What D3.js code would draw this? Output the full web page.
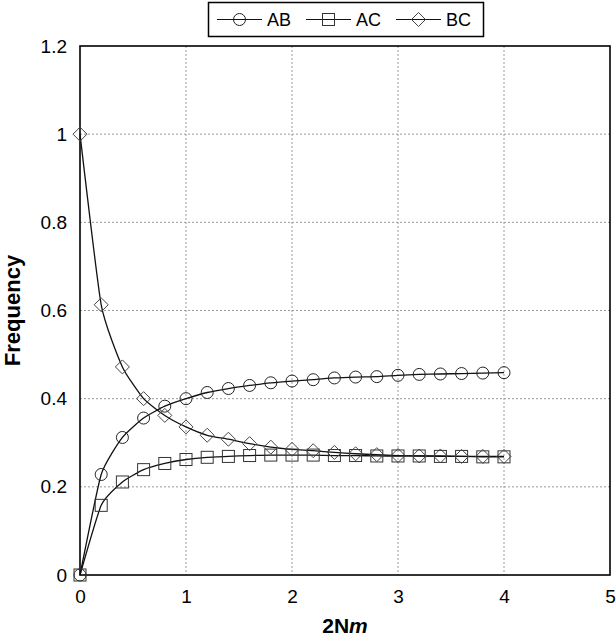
<!DOCTYPE html>
<html>
<head>
  <meta charset="utf-8">
  <script src="https://d3js.org/d3.v7.min.js"></script>
  <style>
    body { margin:0; background:#fff; font-family: Arial, "Liberation Sans", sans-serif; }
  </style>
</head>
<body>
<script>
// x values: 2Nm from 0 to 4 in steps of 0.2
var xs = [0, 0.2, 0.4, 0.6, 0.8, 1.0, 1.2, 1.4, 1.6, 1.8, 2.0,
          2.2, 2.4, 2.6, 2.8, 3.0, 3.2, 3.4, 3.6, 3.8, 4.0];

var ab = [0, 0.228, 0.312, 0.356, 0.383, 0.400, 0.414, 0.423, 0.430, 0.436, 0.440,
          0.443, 0.447, 0.449, 0.450, 0.453, 0.455, 0.456, 0.457, 0.458, 0.459];
var ac = [0, 0.158, 0.211, 0.239, 0.253, 0.262, 0.267, 0.269, 0.271, 0.272, 0.272,
          0.272, 0.271, 0.271, 0.270, 0.270, 0.270, 0.269, 0.269, 0.268, 0.268];
var bc = [1.0, 0.613, 0.472, 0.400, 0.362, 0.336, 0.317, 0.308, 0.298, 0.290, 0.285,
          0.282, 0.278, 0.275, 0.273, 0.271, 0.270, 0.270, 0.269, 0.269, 0.269];

var seriesNames = ["AB", "AC", "BC"];
var xTicks = [0, 1, 2, 3, 4, 5];
var yTicks = [0, 0.2, 0.4, 0.6, 0.8, 1, 1.2];

var W = 616, H = 639;
var pLeft = 80, pRight = 610, pTop = 46, pBottom = 575;

var svg = d3.select("body").append("svg")
  .attr("width", W)
  .attr("height", H);

var x = d3.scaleLinear().domain([0, 5]).range([pLeft, pRight]);
var y = d3.scaleLinear().domain([0, 1.2]).range([pBottom, pTop]);

// grid
svg.append("g").selectAll("line")
  .data(xTicks.slice(1, -1))
  .enter().append("line")
  .attr("x1", function(d){ return x(d); })
  .attr("x2", function(d){ return x(d); })
  .attr("y1", pTop).attr("y2", pBottom)
  .attr("stroke", "#9a9a9a").attr("stroke-width", 1)
  .attr("stroke-dasharray", "2,2");

svg.append("g").selectAll("line")
  .data(yTicks.slice(1, -1))
  .enter().append("line")
  .attr("y1", function(d){ return y(d); })
  .attr("y2", function(d){ return y(d); })
  .attr("x1", pLeft).attr("x2", pRight)
  .attr("stroke", "#9a9a9a").attr("stroke-width", 1)
  .attr("stroke-dasharray", "2,2");

// frame
svg.append("rect")
  .attr("x", pLeft).attr("y", pTop)
  .attr("width", pRight - pLeft).attr("height", pBottom - pTop)
  .attr("fill", "none").attr("stroke", "#000").attr("stroke-width", 1.6);

// axes text
var xAxis = d3.axisBottom(x).tickValues(xTicks).tickSize(0).tickPadding(15)
  .tickFormat(d3.format("d"));
var gx = svg.append("g").attr("transform", "translate(0," + pBottom + ")").call(xAxis);
gx.select(".domain").remove();
gx.selectAll("text").attr("font-size", 19).attr("font-family", "Arial, Liberation Sans, sans-serif").attr("fill", "#000");

var yAxis = d3.axisLeft(y).tickValues(yTicks).tickSize(0).tickPadding(13)
  .tickFormat(function(d){ return String(+d.toFixed(1)); });
var gy = svg.append("g").attr("transform", "translate(" + pLeft + ",0)").call(yAxis);
gy.select(".domain").remove();
gy.selectAll("text").attr("font-size", 19).attr("font-family", "Arial, Liberation Sans, sans-serif").attr("fill", "#000");

// axis titles
svg.append("text")
  .attr("transform", "translate(20," + ((pTop + pBottom) / 2) + ") rotate(-90)")
  .attr("text-anchor", "middle")
  .attr("font-size", 22).attr("font-weight", "bold")
  .text("Frequency");

var xt = svg.append("text")
  .attr("x", (pLeft + pRight) / 2).attr("y", 633)
  .attr("text-anchor", "middle")
  .attr("font-size", 21).attr("font-weight", "bold");
xt.append("tspan").text("2N");
xt.append("tspan").attr("font-style", "italic").text("m");

// lines
var data = [ab, ac, bc].map(function(vals, i){
  return { name: seriesNames[i], pts: xs.map(function(v, j){ return [v, vals[j]]; }) };
});

var line = d3.line()
  .x(function(d){ return x(d[0]); })
  .y(function(d){ return y(d[1]); })
  .curve(d3.curveCardinal.tension(0.5));

svg.append("g").selectAll("path")
  .data(data)
  .enter().append("path")
  .attr("d", function(d){ return line(d.pts); })
  .attr("fill", "none")
  .attr("stroke", "#111")
  .attr("stroke-width", 1.3);

// markers
function marker(g, name, cx, cy) {
  if (name === "AB") {
    g.append("circle").attr("cx", cx).attr("cy", cy).attr("r", 6)
      .attr("fill", "none").attr("stroke", "#222").attr("stroke-width", 1);
  } else if (name === "AC") {
    g.append("rect").attr("x", cx - 6).attr("y", cy - 6).attr("width", 12).attr("height", 12)
      .attr("fill", "none").attr("stroke", "#333").attr("stroke-width", 1);
  } else {
    g.append("path")
      .attr("d", "M" + cx + "," + (cy - 7) + "L" + (cx + 7) + "," + cy + "L" + cx + "," + (cy + 7) + "L" + (cx - 7) + "," + cy + "Z")
      .attr("fill", "none").attr("stroke", "#444").attr("stroke-width", 1);
  }
}

var mg = svg.append("g");
data.forEach(function(s){
  s.pts.forEach(function(p){ marker(mg, s.name, x(p[0]), y(p[1])); });
});

// legend
var lg = svg.append("g");
lg.append("rect")
  .attr("x", 208.5).attr("y", 2.5).attr("width", 275).attr("height", 34)
  .attr("fill", "#fff").attr("stroke", "#000").attr("stroke-width", 1.5);

var legX = [217, 306, 396];
seriesNames.forEach(function(n, i){
  var lx = legX[i], ly = 19.5;
  lg.append("line").attr("x1", lx).attr("x2", lx + 45).attr("y1", ly).attr("y2", ly)
    .attr("stroke", "#111").attr("stroke-width", 1.2);
  marker(lg, n, lx + 22.5, ly);
  lg.append("text").attr("x", lx + 50).attr("y", ly + 6.5)
    .attr("font-size", 18).text(n);
});
</script>
</body>
</html>
